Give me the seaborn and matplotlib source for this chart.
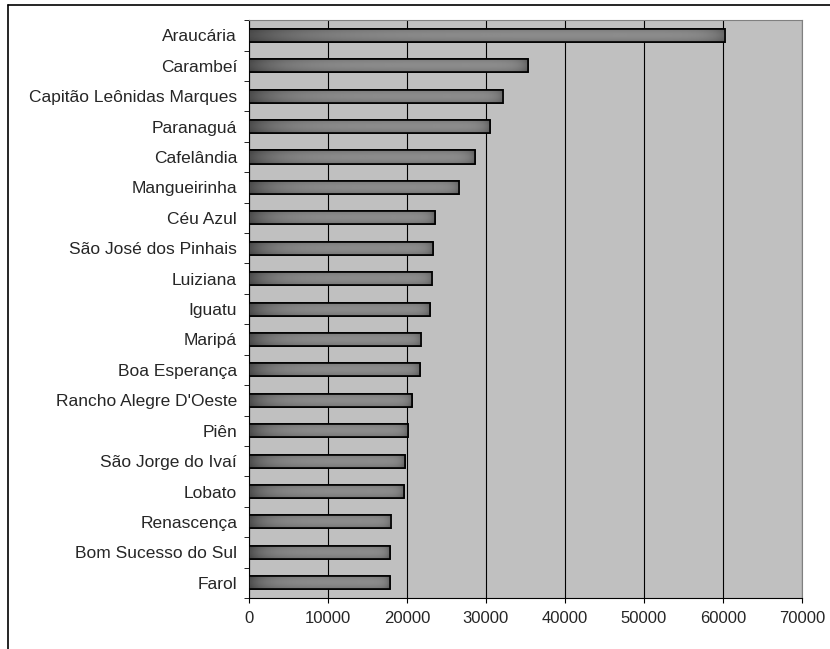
import numpy as np
import matplotlib
matplotlib.use('Agg')
import matplotlib.pyplot as plt
import seaborn as sns
import pandas as pd
from matplotlib.patches import Rectangle
from matplotlib.lines import Line2D

municipios = ["Araucária", "Carambeí", "Capitão Leônidas Marques", "Paranaguá",
              "Cafelândia", "Mangueirinha", "Céu Azul", "São José dos Pinhais",
              "Luiziana", "Iguatu", "Maripá", "Boa Esperança",
              "Rancho Alegre D'Oeste", "Piên", "São Jorge do Ivaí", "Lobato",
              "Renascença", "Bom Sucesso do Sul", "Farol"]
valores = [60300, 35300, 32200, 30500, 28600, 26600, 23500, 23300, 23200,
           22900, 21800, 21600, 20600, 20100, 19700, 19600, 18000, 17800, 17800]
xticks = [0, 10000, 20000, 30000, 40000, 50000, 60000, 70000]

df = pd.DataFrame({"municipio": municipios, "valor": valores})

sns.set_style("white")
plt.rcParams['font.family'] = ['Liberation Sans', 'DejaVu Sans']

fig = plt.figure(figsize=(8.3, 6.49), dpi=100)
ax = fig.add_axes([0.3, 0.0786, 0.666, 0.8904])
ax.set_facecolor("#c0c0c0")

sns.barplot(data=df, x="valor", y="municipio", color="#707070", width=0.43,
            edgecolor="black", linewidth=1.2, ax=ax, zorder=3)

# cylinder-like shading on each bar: dark at the ends, lighter in the middle
t = np.linspace(0, 1, 32)
u = np.linspace(0, 1, 200)
v = 0.85 + 0.15 * np.sin(np.pi * t)
h = 0.30 + 0.25 * (1 - np.exp(-u / 0.12)) - 0.15 * np.exp(-(1 - u) / 0.03)
shade = np.outer(v, h)
for p in ax.patches:
    x0, y0 = p.get_x(), p.get_y()
    w, hh = p.get_width(), p.get_height()
    im = ax.imshow(shade, cmap="gray", vmin=0, vmax=1, aspect="auto",
                   extent=[x0, x0 + w, y0 + hh, y0], zorder=3.5,
                   interpolation="bilinear")
    im.set_clip_path(p)
    ax.add_patch(Rectangle((x0, y0), w, hh, fill=False, edgecolor="black",
                           linewidth=1.2, zorder=4))

ax.set_xlim(0, 70000)
ax.set_ylim(len(municipios) - 0.5, -0.5)
ax.set_xticks(xticks)
ax.set_xticklabels([str(v) for v in xticks], fontsize=12)
ax.grid(axis="x", color="black", linewidth=0.8, zorder=1)
ax.set_axisbelow(True)
ax.set_xlabel("")
ax.set_ylabel("")

ax.set_yticks(range(len(municipios)))
ax.set_yticklabels(municipios, fontsize=12.5)
ax.tick_params(axis="y", length=0, pad=8.5)
ax.set_yticks(np.arange(-0.5, len(municipios), 1), minor=True)
ax.tick_params(axis="y", which="minor", length=3.5, direction="out", left=True, color="black")
ax.tick_params(axis="x", length=3.5, direction="out", bottom=True, color="black", pad=6)

ax.spines["top"].set_color("#808080")
ax.spines["right"].set_color("#808080")
ax.spines["left"].set_color("black")
ax.spines["bottom"].set_color("black")

# outer chart frame (top and left edges visible)
fig.add_artist(Line2D([0.0096, 1.0], [0.9923, 0.9923], transform=fig.transFigure,
                      color="black", linewidth=1.2))
fig.add_artist(Line2D([0.0096, 0.0096], [0.0, 0.9923], transform=fig.transFigure,
                      color="black", linewidth=1.2))

fig.savefig("out.png", dpi=100)
